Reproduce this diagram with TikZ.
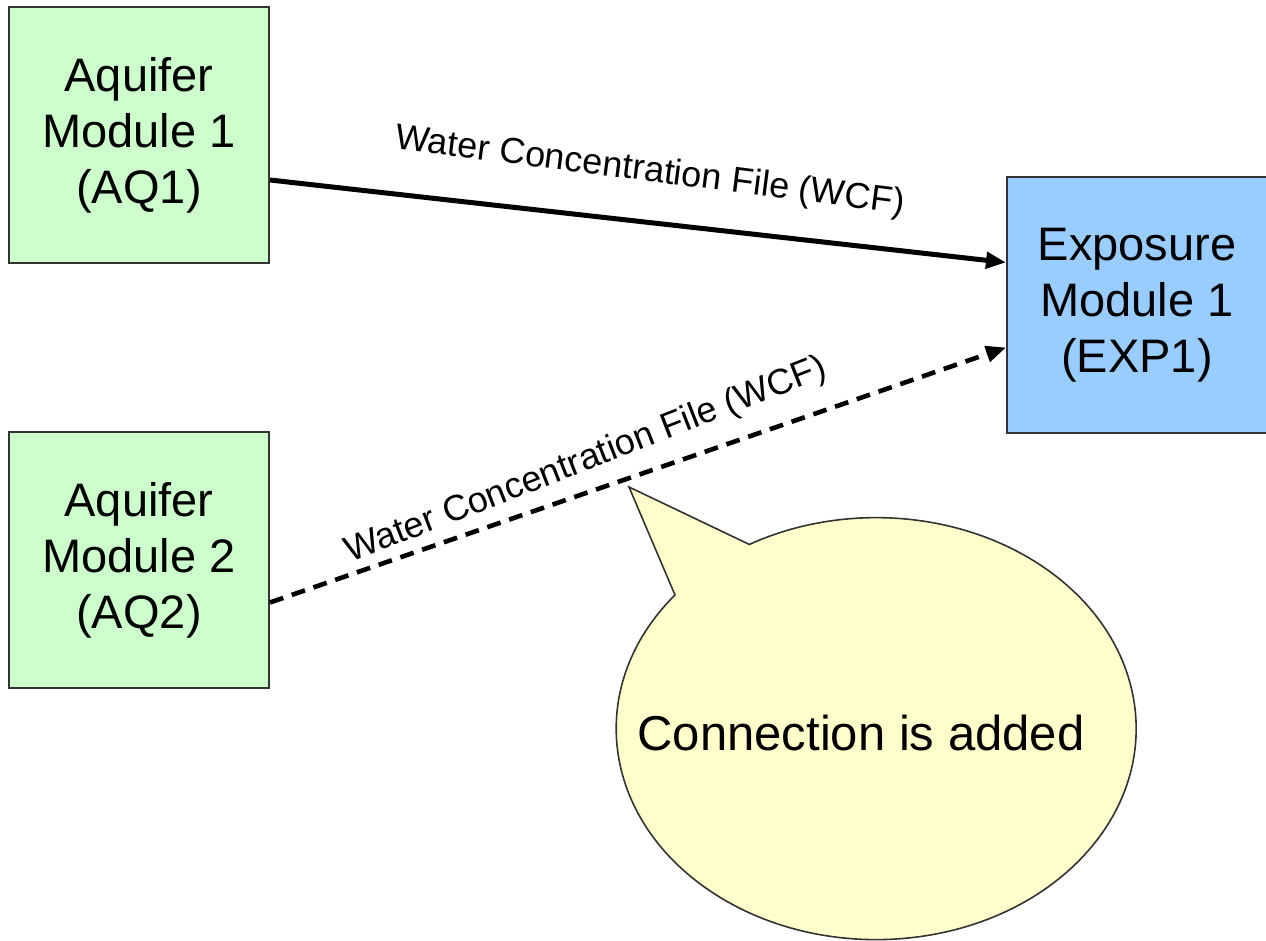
\documentclass[tikz,border=0pt]{standalone}
\usepackage{fontspec}
\setmainfont{Liberation Sans}
\usetikzlibrary{arrows.meta}
\definecolor{aqgreen}{HTML}{CCFFCC}
\definecolor{expblue}{HTML}{99CCFF}
\definecolor{noteyellow}{HTML}{FFFFCC}
\definecolor{edgegray}{HTML}{333333}
\tikzset{
  modbox/.style={draw=edgegray, line width=1pt, minimum width=130pt, minimum height=128pt,
    align=center, font=\fontsize{23.5}{28}\selectfont, inner sep=0pt},
  flowlbl/.style={font=\fontsize{18}{21}\selectfont, inner sep=0pt},
  flowarrow/.style={line width=2.5pt, -{Triangle[length=10pt,width=8pt]}},
  dasharrow/.style={line width=2.3pt, dash pattern=on 7pt off 4.5pt, -{Triangle[length=10pt,width=8pt]}},
}
\begin{document}
\begin{tikzpicture}[x=0.5pt,y=-0.5pt]
\useasboundingbox (0,0) rectangle (1266,941);
\clip (0,0) rectangle (1266,941);
\fill[white] (0,0) rectangle (1266,941);
\node[modbox, fill=aqgreen] (aq1) at (139,135) {Aquifer\\Module 1\\(AQ1)};
\node[modbox, fill=aqgreen] (aq2) at (139,560.5) {Aquifer\\Module 2\\(AQ2)};
\node[modbox, fill=expblue] (exp1) at (1137,305.5) {Exposure\\Module 1\\(EXP1)};
% callout
\draw[draw=edgegray, line width=0.8pt, fill=noteyellow] (629,487) coordinate (tip) -- (675,595)
  arc[start angle=219.3, end angle=-119.2, x radius=260, y radius=211] -- cycle;
\node[font=\fontsize{24.5}{29}\selectfont, inner sep=0pt] (note) at (861,733) {Connection is added};
% connectors
\draw[flowarrow] ([yshift=-22.5pt]aq1.east) -- ([yshift=21.5pt]exp1.west);
\draw[dasharrow] ([yshift=-21pt]aq2.east) -- ([yshift=-21pt]exp1.west);
\node[flowlbl, rotate=-7.3] (lbl1) at (650,172) {Water Concentration File (WCF)};
\node[flowlbl, rotate=21.3] (lbl2) at (586,461) {Water Concentration File (WCF)};
\end{tikzpicture}
\end{document}
